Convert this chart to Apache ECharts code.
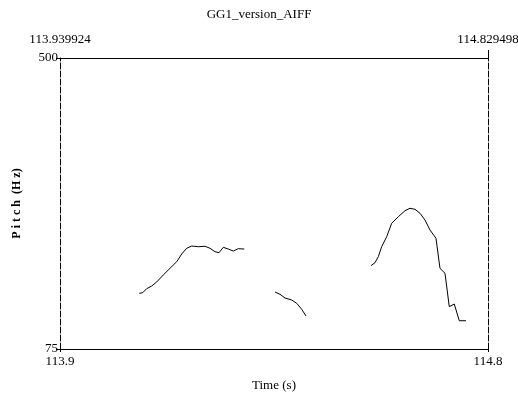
<!DOCTYPE html>
<html>
<head>
<meta charset="utf-8">
<script src="https://cdn.jsdelivr.net/npm/echarts@6/dist/echarts.min.js"></script>
<style>
  html, body { margin: 0; padding: 0; background: #fff; }
  #chart { width: 518px; height: 394px; }
</style>
</head>
<body>
<div id="chart"></div>
<script>
// time range (s) and pitch range (Hz)
const timeMin = 113.939924
const timeMax = 114.829498
const pitchMin = 75
const pitchMax = 500

// pitch contour, three voiced stretches
const seg1Time = [114.1047, 114.1118, 114.1201, 114.1305, 114.1409, 114.1546, 114.1686, 114.1825, 114.1929, 114.2033, 114.2137, 114.2274, 114.2413, 114.2517, 114.2621, 114.2704, 114.2793, 114.2897, 114.3001, 114.3105, 114.3230]
const seg1Pitch = [156.3, 157.2, 163.1, 167.0, 172.9, 183.1, 192.9, 202.5, 213.7, 222.1, 225.4, 224.4, 225.0, 222.1, 217.1, 215.6, 223.5, 221.0, 218.1, 221.5, 221.0]

const seg2Time = [114.3868, 114.3972, 114.4076, 114.4215, 114.4319, 114.4423, 114.4512]
const seg2Pitch = [158.2, 154.9, 149.5, 146.6, 141.7, 133.0, 123.2]

const seg3Time = [114.5863, 114.5946, 114.6015, 114.6085, 114.6189, 114.6293, 114.6431, 114.6570, 114.6674, 114.6778, 114.6882, 114.6985, 114.7089, 114.7214, 114.7297, 114.7401, 114.7490, 114.7594, 114.7698, 114.7838]
const seg3Pitch = [196.7, 201.0, 209.8, 224.4, 239.0, 258.6, 268.2, 277.0, 280.5, 279.0, 273.2, 263.4, 248.8, 236.7, 192.9, 185.6, 136.8, 140.7, 116.3, 116.3]

const zip = (xs, ys) => xs.map((x, i) => [x, ys[i]])

const font = 'Liberation Serif'
const chart = echarts.init(document.getElementById('chart'))

const lineSeries = (data) => ({
  type: 'line',
  data: data,
  showSymbol: false,
  symbol: 'none',
  lineStyle: { color: '#000', width: 1 },
  animation: false
})

const option = {
  animation: false,
  title: {
    text: 'GG1_version_AIFF',
    left: 'center',
    top: 3,
    textStyle: { fontFamily: font, fontSize: 13, fontWeight: 'normal', color: '#000' }
  },
  grid: { left: 60, right: 30, top: 58, bottom: 45, outerBoundsMode: 'none', containLabel: false },
  xAxis: [
    {
      type: 'value',
      position: 'bottom',
      min: timeMin,
      max: timeMax,
      name: 'Time (s)',
      nameLocation: 'middle',
      nameGap: 30,
      nameTextStyle: { fontFamily: font, fontSize: 13, color: '#000' },
      axisLine: { lineStyle: { color: '#000', width: 1 } },
      axisTick: { show: true, length: 3, customValues: [timeMin, timeMax], lineStyle: { color: '#000' } },
      axisLabel: {
        customValues: [timeMin, timeMax],
        formatter: v => v.toFixed(1),
        fontFamily: font, fontSize: 13, color: '#000', margin: 6
      },
      splitLine: { show: false }
    },
    {
      type: 'value',
      position: 'top',
      min: timeMin,
      max: timeMax,
      axisLine: { lineStyle: { color: '#000', width: 1 } },
      axisTick: { show: true, length: 8, customValues: [timeMax], lineStyle: { color: '#000' } },
      axisLabel: {
        customValues: [timeMin, timeMax],
        formatter: v => v.toFixed(6),
        fontFamily: font, fontSize: 13, color: '#000', margin: 12
      },
      splitLine: { show: false }
    }
  ],
  yAxis: [
    {
      type: 'value',
      position: 'left',
      min: pitchMin,
      max: pitchMax,
      name: 'P i t c h  (H z)',
      nameLocation: 'middle',
      nameGap: 37,
      nameTextStyle: { fontFamily: font, fontSize: 12, fontWeight: 'bold', color: '#000' },
      axisLine: { show: true, lineStyle: { color: '#000', width: 1, type: [6, 2] } },
      axisTick: { show: true, length: 4, customValues: [pitchMin, pitchMax], lineStyle: { color: '#000' } },
      axisLabel: {
        customValues: [pitchMin, pitchMax],
        fontFamily: font, fontSize: 13, color: '#000', margin: 2
      },
      splitLine: { show: false }
    },
    {
      type: 'value',
      position: 'right',
      min: pitchMin,
      max: pitchMax,
      axisLine: { show: true, lineStyle: { color: '#000', width: 1, type: [6, 2] } },
      axisTick: { show: false },
      axisLabel: { show: false },
      splitLine: { show: false }
    }
  ],
  series: [
    lineSeries(zip(seg1Time, seg1Pitch)),
    lineSeries(zip(seg2Time, seg2Pitch)),
    lineSeries(zip(seg3Time, seg3Pitch))
  ]
}

chart.setOption(option)
</script>
</body>
</html>
